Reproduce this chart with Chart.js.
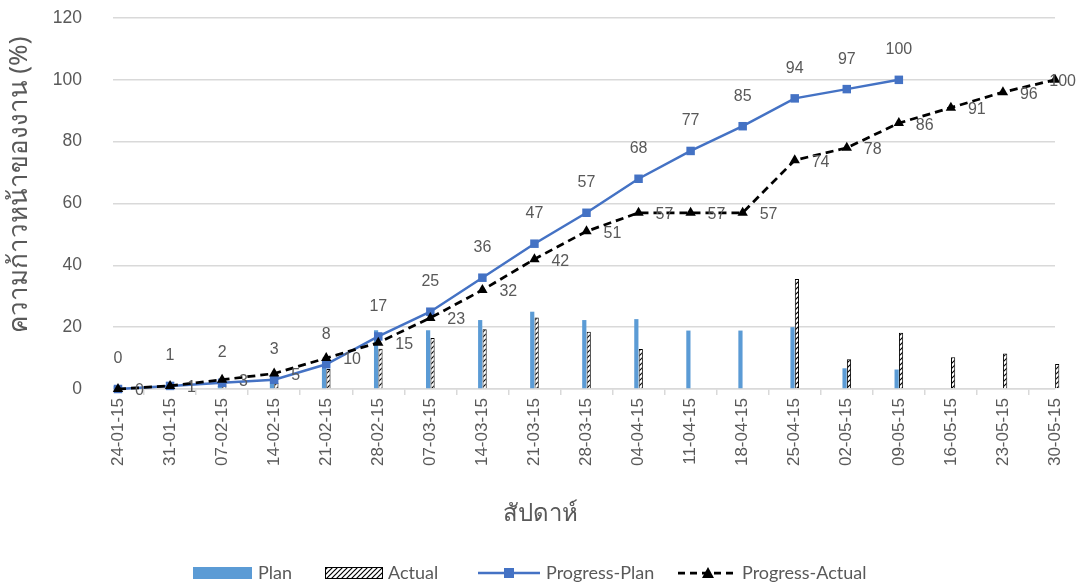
<!DOCTYPE html>
<html>
<head>
<meta charset="utf-8">
<script src="https://cdn.jsdelivr.net/npm/chart.js@4/dist/chart.umd.min.js"></script>
<style>
  html, body { margin: 0; padding: 0; background: #ffffff; }
  #wrap { width: 1081px; height: 586px; }
</style>
</head>
<body>
<div id="wrap"><canvas id="c" width="1081" height="586"></canvas></div>
<script>
// Weekly dates (dd-mm-yy)
const categories = ['24-01-15', '31-01-15', '07-02-15', '14-02-15', '21-02-15', '28-02-15', '07-03-15',
  '14-03-15', '21-03-15', '28-03-15', '04-04-15', '11-04-15', '18-04-15', '25-04-15', '02-05-15',
  '09-05-15', '16-05-15', '23-05-15', '30-05-15'];

// Weekly work amounts (bars)
const planWeekly = [1, 1, 1, 4, 9, 19, 19, 22.3, 25, 22.3, 22.6, 18.9, 18.9, 20, 6.7, 6.3, null, null, null];
const actualWeekly = [0.3, 1, 1.5, 2, 6.5, 13, 16.5, 19.3, 23.1, 18.5, 12.9, null, null, 35.6, 9.6, 18.2, 10.3, 11.5, 8.1];

// Cumulative progress (%)
const progressPlan = [0, 1, 2, 3, 8, 17, 25, 36, 47, 57, 68, 77, 85, 94, 97, 100, null, null, null];
const progressActual = [0, 1, 3, 5, 10, 15, 23, 32, 42, 51, 57, 57, 57, 74, 78, 86, 91, 96, 100];

// Value axis ticks
const yTicks = [0, 20, 40, 60, 80, 100, 120];

const seriesNames = ['Plan', 'Actual', 'Progress-Plan', 'Progress-Actual'];
const yTitle = 'ความก้าวหน้าของงาน (%)';
const xTitle = 'สัปดาห์';

const GRAY_TEXT = '#595959';
const GRID = '#d9d9d9';
const BAR_BLUE = '#5b9bd5';
const LINE_BLUE = '#4472c4';
const NUM_FONT = '"Liberation Sans", Arial, sans-serif';
const THAI_FONT = '"Noto Sans", "DejaVu Sans", sans-serif';

// Diagonal hatch used for the "Actual" bars
function makeHatch() {
  const t = document.createElement('canvas');
  t.width = 5; t.height = 5;
  const g = t.getContext('2d');
  g.fillStyle = '#ffffff';
  g.fillRect(0, 0, 5, 5);
  g.strokeStyle = '#000000';
  g.lineWidth = 1.2;
  g.beginPath();
  g.moveTo(-1, 6); g.lineTo(6, -1);
  g.moveTo(-1, 1); g.lineTo(1, -1);
  g.moveTo(4, 6); g.lineTo(6, 4);
  g.stroke();
  return document.getElementById('c').getContext('2d').createPattern(t, 'repeat');
}
const hatch = makeHatch();

// Value labels, axis titles and legend
const overlay = {
  id: 'overlay',
  afterDatasetsDraw(chart) {
    const ctx = chart.ctx;
    ctx.save();
    ctx.font = '16px ' + NUM_FONT;
    ctx.fillStyle = GRAY_TEXT;
    // Progress-Plan: labels above points
    const mp = chart.getDatasetMeta(2);
    mp.data.forEach((pt, i) => {
      const v = progressPlan[i];
      if (v == null) return;
      ctx.textAlign = 'center';
      ctx.textBaseline = 'middle';
      ctx.fillText(String(v), pt.x, pt.y - 30);
    });
    // Progress-Actual: labels to the right of points
    const ma = chart.getDatasetMeta(3);
    ma.data.forEach((pt, i) => {
      const v = progressActual[i];
      if (v == null) return;
      const s = String(v);
      const w = ctx.measureText(s).width;
      let x = pt.x + 17;
      if (x + w > chart.width - 5) x = chart.width - 5 - w;
      ctx.textAlign = 'left';
      ctx.textBaseline = 'middle';
      ctx.fillText(s, x, pt.y + 2);
    });
    ctx.restore();
  },
  afterDraw(chart) {
    const ctx = chart.ctx;
    ctx.save();
    ctx.fillStyle = GRAY_TEXT;
    // Axis titles
    ctx.textAlign = 'center';
    ctx.textBaseline = 'middle';
    ctx.font = '26px ' + THAI_FONT;
    ctx.save();
    ctx.translate(20, 185);
    ctx.rotate(-Math.PI / 2);
    ctx.fillText(yTitle, 0, 0);
    ctx.restore();
    ctx.font = '24px ' + THAI_FONT;
    ctx.fillText(xTitle, 540, 514);

    // Legend
    const ly = 573;
    ctx.font = '18px Lato, "Open Sans", sans-serif';
    ctx.textAlign = 'left';
    ctx.textBaseline = 'middle';
    // Plan
    ctx.fillStyle = BAR_BLUE;
    ctx.fillRect(193, ly - 6, 59, 12);
    ctx.fillStyle = GRAY_TEXT;
    ctx.fillText(seriesNames[0], 258, ly);
    // Actual
    ctx.fillStyle = hatch;
    ctx.fillRect(325, ly - 6, 58, 12);
    ctx.strokeStyle = '#000';
    ctx.lineWidth = 1;
    ctx.strokeRect(325.5, ly - 5.5, 57, 11);
    ctx.fillStyle = GRAY_TEXT;
    ctx.fillText(seriesNames[1], 388, ly);
    // Progress-Plan
    ctx.strokeStyle = LINE_BLUE;
    ctx.lineWidth = 2.5;
    ctx.beginPath();
    ctx.moveTo(478, ly); ctx.lineTo(540, ly);
    ctx.stroke();
    ctx.fillStyle = LINE_BLUE;
    ctx.fillRect(504, ly - 5, 10, 10);
    ctx.fillStyle = GRAY_TEXT;
    ctx.fillText(seriesNames[2], 546, ly);
    // Progress-Actual
    ctx.strokeStyle = '#000';
    ctx.lineWidth = 2.75;
    ctx.setLineDash([7, 5]);
    ctx.beginPath();
    ctx.moveTo(678, ly); ctx.lineTo(738, ly);
    ctx.stroke();
    ctx.setLineDash([]);
    ctx.fillStyle = '#000';
    ctx.beginPath();
    ctx.moveTo(708, ly - 6); ctx.lineTo(714, ly + 5); ctx.lineTo(702, ly + 5);
    ctx.closePath();
    ctx.fill();
    ctx.fillStyle = GRAY_TEXT;
    ctx.fillText(seriesNames[3], 742, ly);
    ctx.restore();
  }
};

new Chart(document.getElementById('c'), {
  type: 'bar',
  data: {
    labels: categories,
    datasets: [
      {
        label: seriesNames[0], type: 'bar', data: planWeekly, order: 2,
        backgroundColor: BAR_BLUE, borderWidth: 0, clip: false,
        categoryPercentage: 0.17, barPercentage: 0.95
      },
      {
        label: seriesNames[1], type: 'bar', data: actualWeekly, order: 3,
        backgroundColor: hatch, borderColor: '#000', borderWidth: 1, clip: false,
        categoryPercentage: 0.17, barPercentage: 0.95
      },
      {
        label: seriesNames[2], type: 'line', data: progressPlan, order: 1,
        borderColor: LINE_BLUE, backgroundColor: LINE_BLUE, borderWidth: 2.5,
        pointStyle: 'rect', pointRadius: 6, pointHoverRadius: 6, pointBorderWidth: 0,
        tension: 0, spanGaps: false, fill: false, clip: false
      },
      {
        label: seriesNames[3], type: 'line', data: progressActual, order: 0,
        borderColor: '#000', backgroundColor: '#000', borderWidth: 2.75, borderDash: [8, 5],
        pointStyle: 'triangle', pointRadius: 6, pointHoverRadius: 6, pointBorderWidth: 0,
        tension: 0, fill: false, clip: false
      }
    ]
  },
  options: {
    responsive: false,
    animation: false,
    events: [],
    layout: { padding: { top: 18, right: 26, left: 0, bottom: 0 } },
    plugins: {
      legend: { display: false },
      tooltip: { enabled: false },
      title: { display: false }
    },
    scales: {
      x: {
        offset: false,
        grid: { display: true, drawOnChartArea: false, drawTicks: true, tickLength: 6, color: GRID, lineWidth: 1.5 },
        border: { display: true, color: GRID, width: 1.5 },
        ticks: {
          autoSkip: false, maxRotation: 90, minRotation: 90, padding: 3,
          color: GRAY_TEXT, font: { family: NUM_FONT, size: 17 }
        },
        afterFit(scale) {
          scale.height = 586 - 389;
          scale.paddingLeft = 0; scale.paddingRight = 0;
        }
      },
      y: {
        min: 0, max: 120,
        afterBuildTicks(scale) { scale.ticks = yTicks.map(v => ({ value: v })); },
        grid: { color: GRID, lineWidth: 1.5, drawTicks: true, tickLength: 5 },
        border: { display: false },
        ticks: { padding: 31, color: GRAY_TEXT, font: { family: NUM_FONT, size: 17.5 } },
        afterFit(scale) {
          scale.width = 118;
          scale.paddingTop = 0; scale.paddingBottom = 0;
        }
      }
    }
  },
  plugins: [overlay]
});
</script>
</body>
</html>
